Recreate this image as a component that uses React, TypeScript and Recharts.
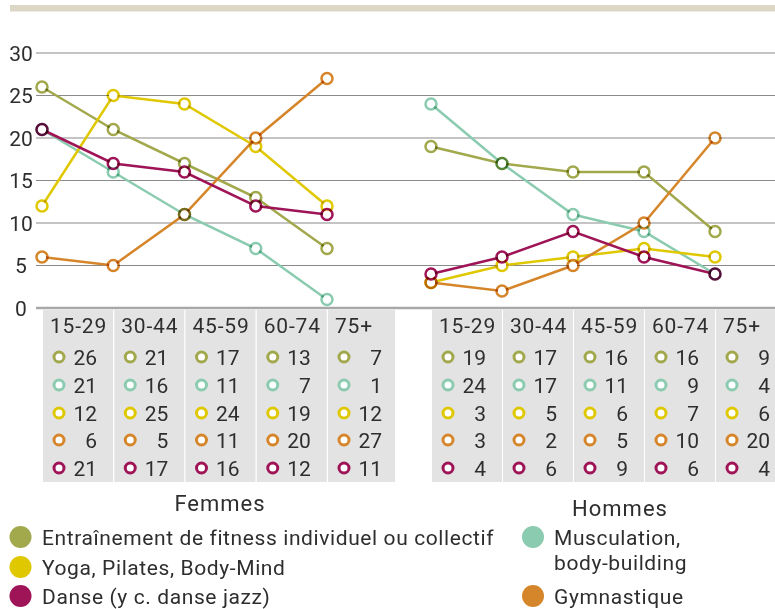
import { LineChart, Line, XAxis, YAxis, CartesianGrid } from 'recharts';

// Age groups and series values (in %)
const ageGroups = ['15-29', '30-44', '45-59', '60-74', '75+'];

const seriesKeys = ['fitness', 'musculation', 'yoga', 'gym', 'danse'];
const seriesNames = [
  'Entraînement de fitness individuel ou collectif',
  'Musculation, body-building',
  'Yoga, Pilates, Body-Mind',
  'Gymnastique',
  'Danse (y c. danse jazz)',
];
const seriesColors = ['#a2a84c', '#8bcbb0', '#e0c800', '#d6862a', '#9e1457'];

const femmesFitness = [26, 21, 17, 13, 7];
const femmesMusculation = [21, 16, 11, 7, 1];
const femmesYoga = [12, 25, 24, 19, 12];
const femmesGym = [6, 5, 11, 20, 27];
const femmesDanse = [21, 17, 16, 12, 11];

const hommesFitness = [19, 17, 16, 16, 9];
const hommesMusculation = [24, 17, 11, 9, 4];
const hommesYoga = [3, 5, 6, 7, 6];
const hommesGym = [3, 2, 5, 10, 20];
const hommesDanse = [4, 6, 9, 6, 4];

const yTicks = [0, 5, 10, 15, 20, 25, 30];

const femmesSeries = [femmesFitness, femmesMusculation, femmesYoga, femmesGym, femmesDanse];
const hommesSeries = [hommesFitness, hommesMusculation, hommesYoga, hommesGym, hommesDanse];

const buildRows = (series: number[][]) =>
  ageGroups.map((age, i) => {
    const row: Record<string, any> = { age };
    seriesKeys.forEach((k, s) => (row[k] = series[s][i]));
    return row;
  });

const femmesData = buildRows(femmesSeries);
const hommesData = buildRows(hommesSeries);

const FONT = 'Roboto, "DejaVu Sans", sans-serif';
const TEXT = '#2e2e2e';

const makeDot = (color: string) => (props: any) => {
  const { cx, cy, index } = props;
  if (cx == null || cy == null) return <g key={`d-${index}`} />;
  return (
    <g key={`d-${index}`}>
      <circle cx={cx} cy={cy} r={4.1} fill="#fff" />
      <circle cx={cx} cy={cy} r={5.5} fill="none" stroke={color} strokeWidth={2.5} style={{ mixBlendMode: 'multiply' }} />
    </g>
  );
};

const YTick = (props: any) => {
  const { y, payload } = props;
  return (
    <text x={21} y={y + 7.5} textAnchor="middle" fontFamily={FONT} fontSize={21} fill={TEXT}>
      {payload.value}
    </text>
  );
};

// each x tick draws the grey table cell for that age group
const makeCellTick = (series: number[][], lastWidth: number) => (props: any) => {
  const { x, y, payload } = props;
  const i = payload.index;
  const w = i === ageGroups.length - 1 ? lastWidth : 70;
  const rowY = [49, 77, 105, 132, 160];
  return (
    <g>
      <rect x={x + 1} y={y + 2} width={w} height={172} fill="#e3e3e3" />
      <text x={x + 8} y={y + 25} fontFamily={FONT} fontSize={21} letterSpacing={0.8} fill={TEXT}>
        {payload.value}
      </text>
      {series.map((vals, s) => (
        <g key={s}>
          <circle cx={x + 17} cy={y + rowY[s]} r={5} fill="#fff" stroke={seriesColors[s]} strokeWidth={3} />
          <text x={x + 55} y={y + rowY[s] + 7.5} textAnchor="end" fontFamily={FONT} fontSize={21} fill={TEXT}>
            {vals[i]}
          </text>
        </g>
      ))}
    </g>
  );
};

const Panel = ({ data, series, showY, width, padding, lastWidth }: any) => (
  <LineChart width={width} height={500} data={data} margin={{ top: 53, right: 0, bottom: 0, left: 0 }}>
    <CartesianGrid horizontal vertical={false} stroke="#8a8a8a" strokeWidth={1.2} />
    <XAxis
      dataKey="age"
      padding={padding}
      axisLine={{ stroke: '#a8a8a8', strokeWidth: 2.5 }}
      tickLine={false}
      tickSize={0}
      tickMargin={0}
      interval={0}
      height={192}
      tick={makeCellTick(series, lastWidth)}
    />
    <YAxis
      domain={[0, 30]}
      ticks={yTicks}
      hide={!showY}
      width={showY ? 36 : 0}
      axisLine={false}
      tickLine={false}
      tick={<YTick />}
    />
    {seriesKeys.map((k, s) => (
      <Line
        key={k}
        dataKey={k}
        type="linear"
        stroke={seriesColors[s]}
        strokeWidth={2.5}
        dot={makeDot(seriesColors[s])}
        activeDot={false}
        isAnimationActive={false}
      />
    ))}
  </LineChart>
);

const App = () => {
  const legendLeft = [0, 2, 4];
  const legendRowY = [537, 567, 596];
  const ls = 0.6;
  return (
    <div style={{ position: 'absolute', left: 0, top: 0, width: 775, height: 609, background: '#fff', overflow: 'hidden' }}>
      <div style={{ position: 'absolute', left: 0, top: 0 }}>
        <Panel data={femmesData} series={femmesSeries} showY width={400} padding={{ left: 6, right: 73 }} lastWidth={67} />
      </div>
      <div style={{ position: 'absolute', left: 400, top: 0 }}>
        <Panel data={hommesData} series={hommesSeries} showY={false} width={375} padding={{ left: 31, right: 60 }} lastWidth={59} />
      </div>
      <svg width={775} height={609} style={{ position: 'absolute', left: 0, top: 0, pointerEvents: 'none' }}>
        <rect x={10} y={5} width={765} height={6.5} fill="#dcd6c6" />
        <text x={220} y={511} textAnchor="middle" fontFamily={FONT} fontSize={22} letterSpacing={1} fill={TEXT}>Femmes</text>
        <text x={620} y={516} textAnchor="middle" fontFamily={FONT} fontSize={22} letterSpacing={1} fill={TEXT}>Hommes</text>
        {legendLeft.map((s, r) => (
          <g key={s}>
            <circle cx={20.5} cy={legendRowY[r]} r={11} fill={seriesColors[s]} />
            <text x={42} y={legendRowY[r] + 7.5} fontFamily={FONT} fontSize={21} letterSpacing={ls} fill={TEXT}>{seriesNames[s]}</text>
          </g>
        ))}
        <circle cx={533} cy={537} r={11} fill={seriesColors[1]} />
        <text x={554} y={544.5} fontFamily={FONT} fontSize={21} letterSpacing={ls} fill={TEXT}>{seriesNames[1].split(' ')[0]}</text>
        <text x={554} y={569.5} fontFamily={FONT} fontSize={21} letterSpacing={ls} fill={TEXT}>{seriesNames[1].split(' ')[1]}</text>
        <circle cx={533} cy={596} r={11} fill={seriesColors[3]} />
        <text x={554} y={603.5} fontFamily={FONT} fontSize={21} letterSpacing={ls} fill={TEXT}>{seriesNames[3]}</text>
      </svg>
    </div>
  );
};

export default App;
